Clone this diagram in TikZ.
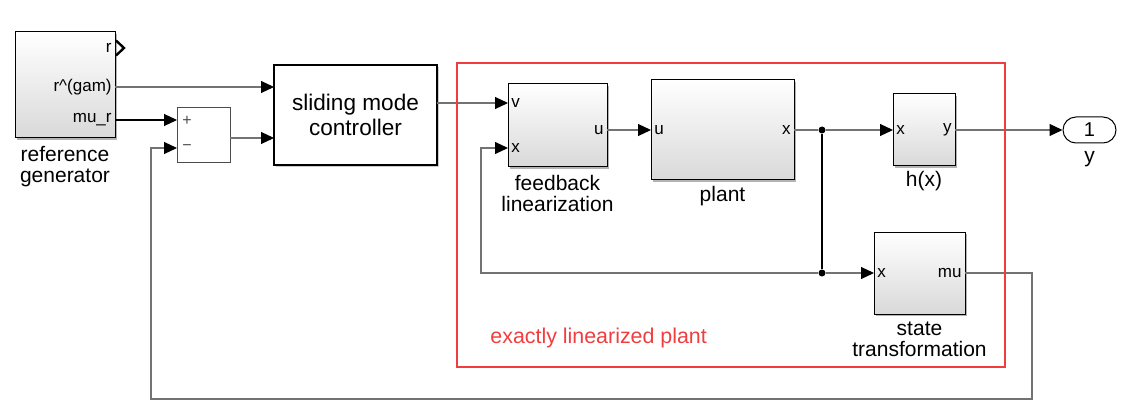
\documentclass[tikz,border=0pt]{standalone}
\usepackage{fontspec}
\setmainfont{Liberation Sans}
\usetikzlibrary{positioning,arrows.meta,shadows}
\definecolor{linred}{RGB}{240,62,62}
\newcommand{\lblfont}{\fontsize{10.5}{10.5}\selectfont}
\newcommand{\portfont}{\fontsize{8.5}{8.5}\selectfont}
\begin{document}
\begin{tikzpicture}[x=0.5pt,y=-0.5pt,node distance=3pt,font=\lblfont,
    >={Triangle[length=6.5pt,width=6pt,black]},
    blk/.style={draw,line width=0.5pt,inner sep=0pt,outer sep=0pt,
      top color=white,bottom color=black!15,
      drop shadow={shadow xshift=0.9pt,shadow yshift=-0.9pt,fill=black!50,opacity=0.6}},
    ctrlblk/.style={draw,line width=1pt,fill=white,inner sep=0pt,outer sep=0pt,
      drop shadow={shadow xshift=0.8pt,shadow yshift=-0.8pt,fill=black!40,opacity=0.5}},
    sumblk/.style={draw=black!70,line width=0.4pt,fill=white,inner sep=0pt,outer sep=0pt,
      drop shadow={shadow xshift=0.6pt,shadow yshift=-0.6pt,fill=black!30,opacity=0.5}},
    port/.style={font=\portfont,inner sep=0pt},
    lbl/.style={align=center,inner sep=0pt},
    sig/.style={draw=black!55,line width=0.55pt},
    dot/.style={circle,fill=black,inner sep=0pt,minimum size=3.5pt}]
  \useasboundingbox (0,0) rectangle (1125,417);
  % blocks
  \node[blk,minimum width=50pt,minimum height=53pt] (refgen) at (65,85) {};
  \node[sumblk,minimum width=26.5pt,minimum height=27.5pt] (sum) at (203.5,134.5) {};
  \node[ctrlblk,minimum width=81.5pt,minimum height=50pt,align=center,
    font=\fontsize{11.3}{12.5}\selectfont] (ctrl) at (355.5,115) {sliding mode\\controller};
  \node[blk,minimum width=49.5pt,minimum height=41.5pt] (fblin) at (557.5,125.5) {};
  \node[blk,minimum width=71.5pt,minimum height=50pt] (plant) at (722.5,130) {};
  \node[blk,minimum width=31pt,minimum height=36pt] (hx) at (924,130) {};
  \node[blk,minimum width=45.5pt,minimum height=41pt] (stt) at (919.5,273) {};
  \node[draw,line width=0.5pt,rounded corners=6.5pt,minimum width=26.5pt,
    minimum height=13pt,inner sep=0pt,font=\fontsize{10}{10}\selectfont] (outp) at (1089.5,130) {1};
  % block names
  \node[lbl,below=4pt of refgen] (rglbl) {reference\\generator};
  \node[lbl,below=4pt of fblin] (fblbl) {feedback\\linearization};
  \node[lbl,below=3pt of plant] (pllbl) {plant};
  \node[lbl,below=2.5pt of hx] (hxlbl) {h(x)};
  \node[lbl,below=4pt of stt] (stlbl) {state\\transformation};
  \node[lbl,below=4pt of outp] (ylbl) {y};
  % ports
  \node[port,anchor=east] (rgr) at (112,48) {r};
  \node[port,anchor=east] (rgg) at (112,87) {r\textasciicircum(gam)};
  \node[port,anchor=east] (rgm) at (112,120) {mu\_r};
  \node[port,text=black!70,font=\fontsize{8}{8}\selectfont] (splus) at (187,121) {+};
  \node[port,text=black!70,font=\fontsize{8}{8}\selectfont] (smin) at (187,148) {−};
  \node[port,anchor=west] (fbv) at (511,103) {v};
  \node[port,anchor=west] (fbx) at (511,148) {x};
  \node[port,anchor=east] (fbu) at (604,130) {u};
  \node[port,anchor=west] (plu) at (654,130) {u};
  \node[port,anchor=east] (plx) at (791,130) {x};
  \node[port,anchor=west] (hxx) at (896,130) {x};
  \node[port,anchor=east] (hxy) at (952,130) {y};
  \node[port,anchor=west] (stx) at (877,273) {x};
  \node[port,anchor=east] (stm) at (962,273) {mu};
  \draw[line width=1.2pt] (refgen.east |- rgr) ++(1,-7.5) -- ++(8,7.5) -- ++(-8,7.5);
  % signals
  \draw[sig,->] (refgen.east |- rgg) -- (ctrl.west |- rgg);
  \draw[sig,draw=black,->] (refgen.east |- rgm) -- (sum.west |- rgm);
  \path (sum.east) ++(0,3.5) coordinate (sumout);
  \draw[sig,->] (sumout) -- (ctrl.west |- sumout);
  \draw[sig,->] (ctrl.east |- fbv) -- (fblin.west |- fbv);
  \draw[sig,->] (fblin.east |- fbu) -- (plant.west |- plu);
  \node[dot] (br1) at (822,130) {};
  \node[dot] (br2) at (822,273) {};
  \draw[sig] (plant.east |- plx) -- (br1);
  \draw[sig,->] (br1) -- (hx.west |- hxx);
  \draw[sig,->] (hx.east |- hxy) -- (outp.west);
  \draw[sig,draw=black] (br1) -- (br2);
  \draw[sig,->] (br2) -- (stt.west |- stx);
  \coordinate (fbk) at (481,273);
  \draw[sig,->] (br2) -- (fbk) |- (fblin.west |- fbx);
  \coordinate (lpr) at (1032,399);
  \coordinate (lpl) at (151,399);
  \draw[sig,->] (stt.east |- stm) -| (lpr) -- (lpl) |- (sum.west |- smin);
  % subsystem frame
  \draw[linred,line width=0.8pt] (457,63) rectangle (1005,367);
  \node[text=linred,anchor=west,inner sep=0pt,font=\fontsize{10.7}{10.7}\selectfont]
    (lintxt) at (490,338) {exactly linearized plant};
\end{tikzpicture}
\end{document}
